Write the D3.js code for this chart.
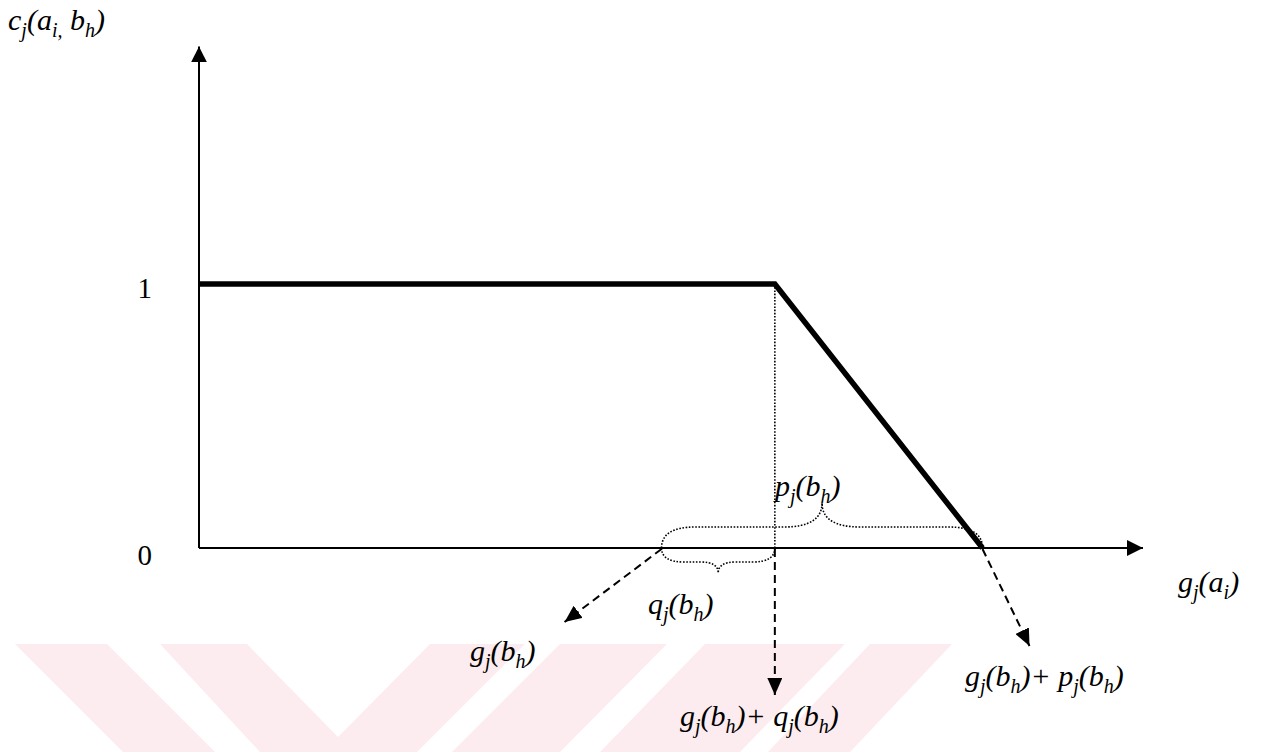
<!DOCTYPE html>
<html>
<head>
<meta charset="utf-8">
<script src="https://cdn.jsdelivr.net/npm/d3@7"></script>
<style>
  html, body { margin: 0; padding: 0; background: #fff; }
  svg { display: block; }
  text { font-family: "Liberation Serif", "Times New Roman", serif; fill: #000; }
</style>
</head>
<body>
<svg id="chart" width="1268" height="752"></svg>
<script>
// Concordance index c_j(a_i, b_h) for criterion j (ELECTRE TRI)
const gB = 4.9;          // g_j(b_h)
const qB = 1.2;          // q_j(b_h) indifference threshold
const pB = 3.4;          // p_j(b_h) preference threshold
const xMax = 10;         // end of the g_j(a_i) axis
const yMax = 1.9;        // end of the c_j axis
const yTicks = [0, 1];
const tickLabels = ["0", "1"];
const concordance = [
  { g: 0, c: 1 },
  { g: gB + qB, c: 1 },
  { g: gB + pB, c: 0 }
];

// faint background stripes of the page
const stripes = [
  [[15,644],[107,644],[215,752],[123,752]],
  [[160,644],[247,644],[338,737],[430,644],[525,644],[417,752],[260,752]],
  [[560,644],[667,644],[560,752],[452,752]],
  [[705,644],[845,644],[740,752],[600,752]],
  [[870,644],[952,644],[850,752],[768,752]]
];

const svg = d3.select("#chart");
const x = d3.scaleLinear().domain([0, xMax]).range([199, 1143]);
const y = d3.scaleLinear().domain([0, 1]).range([548, 284]);

svg.append("g").selectAll("polygon").data(stripes).join("polygon")
  .attr("points", d => d.map(p => p.join(",")).join(" "))
  .attr("fill", "#fdecef");

const defs = svg.append("defs");
function marker(id, w, h) {
  defs.append("marker").attr("id", id)
    .attr("viewBox", `0 0 ${w} ${h}`)
    .attr("refX", w).attr("refY", h / 2)
    .attr("markerWidth", w).attr("markerHeight", h)
    .attr("markerUnits", "userSpaceOnUse")
    .attr("orient", "auto")
    .append("path").attr("d", `M0,0L${w},${h / 2}L0,${h}Z`).attr("fill", "#000");
}
marker("axisHead", 16, 16);
marker("dashHead", 17, 15);

// axes
svg.append("line")
  .attr("x1", x(0)).attr("y1", y(0)).attr("x2", x(0)).attr("y2", y(yMax))
  .attr("stroke", "#000").attr("stroke-width", 2).attr("marker-end", "url(#axisHead)");
svg.append("line")
  .attr("x1", x(0)).attr("y1", y(0)).attr("x2", x(xMax)).attr("y2", y(0))
  .attr("stroke", "#000").attr("stroke-width", 2).attr("marker-end", "url(#axisHead)");

// y tick labels
const yAxis = d3.axisLeft(y).tickValues(yTicks).tickSize(0).tickPadding(47)
  .tickFormat((d, i) => tickLabels[i]);
const ya = svg.append("g").attr("transform", `translate(${x(0)},0)`).call(yAxis);
ya.select(".domain").remove();
ya.selectAll("text").attr("font-family", "Liberation Serif").attr("font-size", 29)
  .attr("dy", d => d === 1 ? "0.48em" : "0.58em").style("fill", "#000");

// dotted guide at g_j(b_h)+q_j(b_h)
svg.append("line")
  .attr("x1", x(gB + qB)).attr("y1", y(1)).attr("x2", x(gB + qB)).attr("y2", y(0))
  .attr("stroke", "#000").attr("stroke-width", 1.6).attr("stroke-dasharray", "1.6,1.6");

// concordance function
const line = d3.line().x(d => x(d.g)).y(d => y(d.c));
svg.append("path").datum(concordance).attr("d", line)
  .attr("fill", "none").attr("stroke", "#000").attr("stroke-width", 5.5)
  .attr("stroke-linejoin", "miter");
svg.append("line")
  .attr("x1", x(0)).attr("y1", y(0)).attr("x2", x(0)).attr("y2", y(1))
  .attr("stroke", "#000").attr("stroke-width", 2);

// curly braces
function brace(x0, x1, yb, dir, depth, tip) {
  const xm = (x0 + x1) / 2, r = Math.abs(depth);
  const yl = yb + dir * depth, yt = yl + dir * tip;
  const p = d3.path();
  p.moveTo(x0, yb);
  p.quadraticCurveTo(x0, yl, x0 + r * 1.6, yl);
  p.lineTo(xm - tip * 1.6, yl);
  p.quadraticCurveTo(xm, yl, xm, yt);
  p.quadraticCurveTo(xm, yl, xm + tip * 1.6, yl);
  p.lineTo(x1 - r * 1.6, yl);
  p.quadraticCurveTo(x1, yl, x1, yb);
  return p.toString();
}
svg.append("path").attr("d", brace(x(gB), x(gB + pB), y(0), -1, 21, 24))
  .attr("fill", "none").attr("stroke", "#000").attr("stroke-width", 1.6).attr("stroke-dasharray", "1.6,1.6");
svg.append("path").attr("d", brace(x(gB), x(gB + qB), y(0), 1, 14, 11))
  .attr("fill", "none").attr("stroke", "#000").attr("stroke-width", 1.6).attr("stroke-dasharray", "1.6,1.6");

// dashed pointers
const pointers = [
  { from: gB, dx: -97, dy: 74 },
  { from: gB + qB, dx: 0, dy: 147 },
  { from: gB + pB, dx: 47, dy: 98 }
];
svg.append("g").selectAll("line").data(pointers).join("line")
  .attr("x1", d => x(d.from)).attr("y1", y(0) + 1)
  .attr("x2", d => x(d.from) + d.dx).attr("y2", d => y(0) + d.dy)
  .attr("stroke", "#000").attr("stroke-width", 2).attr("stroke-dasharray", "8,5")
  .attr("marker-end", "url(#dashHead)");

// labels with subscripts
function label(tx, ty, parts) {
  const t = svg.append("text").attr("x", tx).attr("y", ty)
    .attr("font-size", 30).attr("font-style", "italic");
  let shift = 0;
  parts.forEach(([s, sub]) => {
    const want = sub ? 7 : 0;
    const ts = t.append("tspan").text(s).attr("dy", want - shift);
    if (sub) ts.attr("font-size", 20);
    shift = want;
  });
  return t;
}
label(8, 30, [["c"], ["j", 1], ["(a"], ["i,", 1], [" b"], ["h", 1], [")"]]);
label(1178, 592, [["g"], ["j", 1], ["(a"], ["i", 1], [")"]]);
label(775, 496, [["p"], ["j", 1], ["(b"], ["h", 1], [")"]]);
label(648, 614, [["q"], ["j", 1], ["(b"], ["h", 1], [")"]]);
label(470, 661, [["g"], ["j", 1], ["(b"], ["h", 1], [")"]]);
label(680, 726, [["g"], ["j", 1], ["(b"], ["h", 1], [")+ q"], ["j", 1], ["(b"], ["h", 1], [")"]]);
label(965, 686, [["g"], ["j", 1], ["(b"], ["h", 1], [")+ p"], ["j", 1], ["(b"], ["h", 1], [")"]]);
</script>
</body>
</html>
